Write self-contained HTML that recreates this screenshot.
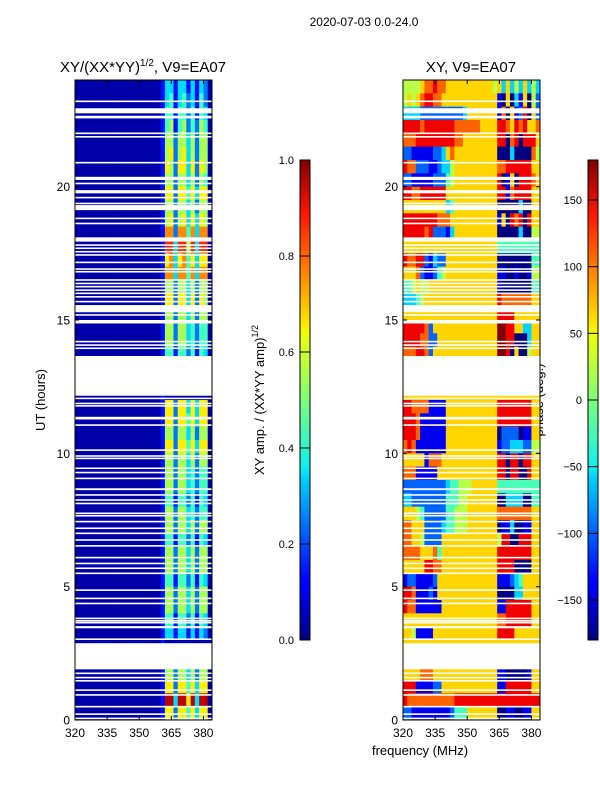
<!DOCTYPE html>
<html><head><meta charset="utf-8">
<style>
html,body{margin:0;padding:0;background:#fff;}
svg{display:block;font-family:"Liberation Sans","DejaVu Sans",sans-serif;}
</style></head>
<body>
<svg id="fig" width="600" height="800" viewBox="0 0 600 800" xmlns="http://www.w3.org/2000/svg">
<defs>
<linearGradient id="jet" x1="0" y1="1" x2="0" y2="0">
<stop offset="0" stop-color="#00007f"/><stop offset="0.11" stop-color="#0000ff"/>
<stop offset="0.125" stop-color="#0000ff"/><stop offset="0.34" stop-color="#00d4ff"/>
<stop offset="0.36" stop-color="#0ff0ee"/><stop offset="0.5" stop-color="#7dff7a"/>
<stop offset="0.64" stop-color="#f0ff07"/><stop offset="0.66" stop-color="#ffe500"/>
<stop offset="0.89" stop-color="#ff1400"/><stop offset="1" stop-color="#7f0000"/>
</linearGradient>
</defs>
<text x="364" y="26" font-size="12" text-anchor="middle">2020-07-03 0.0-24.0</text>
<text x="143" y="72" font-size="15" text-anchor="middle">XY/(XX*YY)<tspan font-size="10" dy="-6">1/2</tspan><tspan dy="6">, V9=EA07</tspan></text>
<text x="471" y="72" font-size="15" text-anchor="middle">XY, V9=EA07</text>
<text transform="translate(45,400) rotate(-90)" font-size="13" text-anchor="middle">UT (hours)</text>
<text x="420" y="755" font-size="13" text-anchor="middle">frequency (MHz)</text>
<text transform="translate(264,400) rotate(-90)" font-size="13" text-anchor="middle">XY amp. / (XX*YY amp)<tspan font-size="9" dy="-6">1/2</tspan></text>
<text transform="translate(543,400) rotate(-90)" font-size="13" text-anchor="middle">phase (deg.)</text>
<g id="left"></g>
<g id="right"></g>
<g id="axes"></g>
</svg>
<script>
// ---- data ----
const hours = [0, 24];
const freqRange = [320, 384];
const freqTicks = [320, 335, 350, 365, 380];
const timeTicks = [0, 5, 10, 15, 20];
const ampTicks = [0.0, 0.2, 0.4, 0.6, 0.8, 1.0];
const phaseTicks = [-150, -100, -50, 0, 50, 100, 150];
const P = "000000000000000000001";
// amplitude codes (d -> 0.04 + 0.1*d), rows top (23.5-24h) to bottom (0-0.5h), 2 MHz channels
const ampRows = [
P+"33133131320",P+"34134231420",P+"44144241430",P+"45145242540",P+"55255352550",P+"56256352550",
P+"65266362650",P+"55255352540",P+"66266463660",P+"55255352550",P+"56256363650",P+"77277473770",
P+"88388583880",P+"67367463660",P+"77377473770",P+"55255352550",P+"66266362650",P+"55255352550",
P+"55255342440",P+"55255342440",P+"44144241430",P+"00000000000",P+"00000000000",P+"00000000000",
P+"66266363660",P+"66266463660",P+"55255352550",P+"66266463660",P+"55255352550",P+"55255342440",
P+"55255342440",P+"44144241430",P+"55255342440",P+"55255352550",P+"44144241430",P+"55255352550",
P+"55255352550",P+"44144241430",P+"55255352550",P+"55255352550",P+"44144241430",P+"33133131320",
P+"00000000000",P+"00000000000",P+"55255352550",P+"66266463660",P+"99399693990",P+"66266463660"
];
// phase codes (d -> -180 + 40*d)
const phaseRows = [
"55556778776666666666656363536353","56567887766666666666661060316052","33332222222222366666661706128062",
"88887888888877777766668876878667","77788888888877666666668807808886","22111112236766666666660003000075",
"87722211233566666666667788888866","22111112224566666666668016088876","88778888886666666666668817888866",
"66666666663466666666660000030066","88888888777666666666661608780866","88888782221366666666660000030055",
"66666666666666666666664444444444","87788213226666666666660000000044","66672112456666666666661100100155",
"44565566666666666666661000000044","33345666666666666666668777777766","66666666666666666666668888666666",
"88888726666666666666669988663366","88887722666666666666669988000366","77788726666666666666669980600566",
"66666666666666666666666666666666","66666666666666666666666666666666","66666666666666666666666666666666",
"88777711116666666666668888888866","88871111116666666666668888888866","88871111116666666666660222201166",
"78711111116666666666661223332255","66666177766666666666668808808866","77711111666666666666668808800866",
"22222222223445556666664444444444","33222222224445566666660033330044","66654222224455566666667777777766",
"77666222234455566666660113001166","77665222266666666666665880088866","77776667466666666666668888888866",
"66666887766666666666668888000066","12211112666666666666661112346666","88711121666666666666660000336666",
"87711111166666666666661188888866","66666666666666666666667788888866","66511116666666666666668888666666",
"66666666666666666666666666666666","66666666666666666666666666666666","66667776666666666666661100000166",
"88811112266666666666661188888866","87777777777788888888888888888888","22111111111244466666660011001166"
];
// flagged (blank) time intervals in hours [start, end]
const gaps = [[23.17,23.23],[22.75,22.94],[22.56,22.66],[21.97,22.03],[21.84,21.9],[20.87,20.93],[20.25,20.37],
[20.09,20.15],[19.75,19.87],[19.56,19.62],[19.34,19.4],[19.12,19.31],[18.78,18.84],[18.59,18.65],[17.94,18.1],
[17.78,17.84],[17.66,17.72],[17.53,17.59],[17.41,17.47],[17.13,17.19],[16.88,16.94],[16.78,16.84],[16.47,16.53],
[16.34,16.4],[16.22,16.28],[16.09,16.15],[15.97,16.03],[15.84,15.9],[15.66,15.72],[15.29,15.56],[15.16,15.22],
[14.87,15.0],[14.16,14.22],[14.03,14.09],[13.91,13.97],[12.16,13.65],[12.03,12.09],[11.84,11.9],[11.75,11.81],
[11.27,11.37],[11.03,11.09],[10.09,10.15],[9.87,9.93],[9.78,9.84],[9.41,9.47],[9.25,9.31],[9.03,9.09],[8.62,8.69],
[8.41,8.47],[8.22,8.28],[8.09,8.15],[7.72,7.78],[7.63,7.69],[7.41,7.47],[7.16,7.22],[6.97,7.03],[6.72,6.78],
[6.5,6.56],[6.06,6.12],[5.84,5.9],[5.66,5.72],[5.47,5.53],[4.84,4.9],[4.53,4.59],[4.34,4.4],[3.78,3.84],
[3.69,3.75],[3.62,3.68],[3.44,3.52],[3.0,3.06],[1.9,2.88],[1.72,1.78],[1.56,1.62],[1.44,1.5],[1.09,1.15],
[0.91,0.97],[0.47,0.53],[0.19,0.25],[0.03,0.09]
];
// ---- rendering ----
const NS = "http://www.w3.org/2000/svg";
const panels = {left:{x0:75,x1:212}, right:{x0:403,x1:540}};
const Y0 = 720, Y1 = 80;
function yScale(h){ return Y0 - (h - hours[0]) / (hours[1] - hours[0]) * (Y0 - Y1); }
function xScale(p, f){ return p.x0 + (f - freqRange[0]) / (freqRange[1] - freqRange[0]) * (p.x1 - p.x0); }
function jet(v){
  v = Math.max(0, Math.min(1, v));
  const r = Math.max(0, Math.min(1, 1.5 - Math.abs(4*v - 3)));
  const g = Math.max(0, Math.min(1, 1.5 - Math.abs(4*v - 2)));
  const b = Math.max(0, Math.min(1, 1.5 - Math.abs(4*v - 1)));
  return "rgb(" + Math.round(r*255) + "," + Math.round(g*255) + "," + Math.round(b*255) + ")";
}
function mk(tag, attrs, parent){
  const e = document.createElementNS(NS, tag);
  for (const k in attrs) e.setAttribute(k, attrs[k]);
  parent.appendChild(e); return e;
}
function drawHeat(gid, p, rows, toNorm){
  const g = document.getElementById(gid);
  const nr = rows.length, dh = (hours[1] - hours[0]) / nr;
  rows.forEach((row, i) => {
    const hTop = hours[1] - i*dh, hBot = hTop - dh;
    const nc = row.length, df = (freqRange[1] - freqRange[0]) / nc;
    for (let j = 0; j < nc; j++){
      const xa = xScale(p, freqRange[0] + j*df), xb = xScale(p, freqRange[0] + (j+1)*df);
      const c = mk("rect", {x:xa, y:yScale(hTop), width:xb - xa + 0.4, height:yScale(hBot) - yScale(hTop) + 0.4,
        fill: jet(toNorm(+row[j]))}, g);
      
      
    }
  });
  gaps.forEach(gp => {
    const r = mk("rect", {x:p.x0, y:yScale(gp[1]), width:p.x1 - p.x0, height:Math.max(1.3, yScale(gp[0]) - yScale(gp[1])), fill:"#fff"}, g);
    
    
  });
}
drawHeat("left", panels.left, ampRows, d => 0.04 + 0.1*d);
drawHeat("right", panels.right, phaseRows, d => ((-180 + 40*d) + 180) / 360);

const ax = document.getElementById("axes");
["left","right"].forEach(k => {
  const p = panels[k];
  const fr = mk("rect", {x:p.x0, y:Y1, width:p.x1 - p.x0, height:Y0 - Y1, fill:"none", stroke:"#000", "stroke-width":1}, ax);
  
  
  timeTicks.forEach(t => {
    const y = yScale(t);
    mk("line", {x1:p.x0, x2:p.x0 + 4, y1:y, y2:y, stroke:"#000"}, ax);
    mk("line", {x1:p.x1, x2:p.x1 - 4, y1:y, y2:y, stroke:"#000"}, ax);
    const tl = mk("text", {x:p.x0 - 5, y:y + 4.5, "font-size":12, "text-anchor":"end"}, ax);
    tl.textContent = String(t);
    
    
  });
  freqTicks.forEach(f => {
    const x = xScale(p, f);
    mk("line", {x1:x, x2:x, y1:Y0, y2:Y0 - 4, stroke:"#000"}, ax);
    mk("line", {x1:x, x2:x, y1:Y1, y2:Y1 + 4, stroke:"#000"}, ax);
    const tl = mk("text", {x:x, y:Y0 + 17, "font-size":12, "text-anchor":"middle"}, ax);
    tl.textContent = String(f);
    
    
  });
});
// colorbars
const CB0 = 640, CB1 = 160;
function drawCbar(x, name, ticks, lo, hi, fmt){
  const r = mk("rect", {x:x, y:CB1, width:10, height:CB0 - CB1, fill:"url(#jet)", stroke:"#000", "stroke-width":1}, ax);
  
  
  ticks.forEach(t => {
    const y = CB0 - (t - lo) / (hi - lo) * (CB0 - CB1);
    mk("line", {x1:x, x2:x + 10, y1:y, y2:y, stroke:"#000"}, ax);
    const tl = mk("text", {x:x - 6, y:y + 4, "font-size":11, "text-anchor":"end"}, ax);
    tl.textContent = fmt(t);
    
    
  });
}
drawCbar(300, "amp-colorbar", ampTicks, 0, 1, t => t.toFixed(1));
drawCbar(588, "phase-colorbar", phaseTicks, -180, 180, t => t < 0 ? "\u2212" + (-t) : String(t));
</script>
</body></html>
